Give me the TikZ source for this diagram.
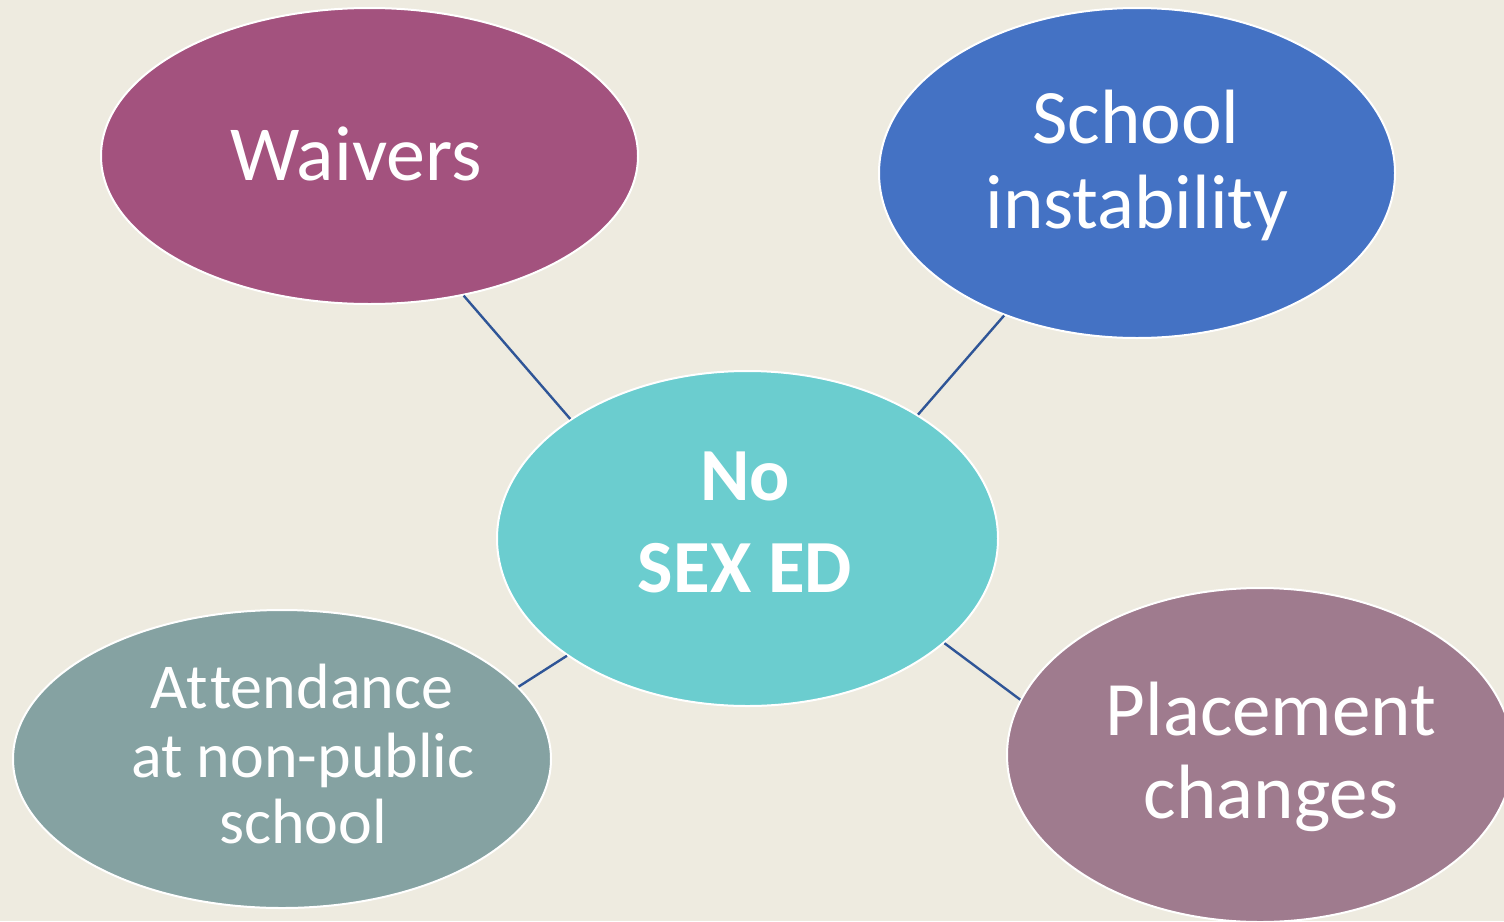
\documentclass[tikz,border=0pt]{standalone}
\usepackage{fontspec}
\setmainfont[Ligatures={NoCommon,NoContextual},RawFeature={-liga;-clig;-dlig}]{Carlito}
\usetikzlibrary{shapes.geometric}
\definecolor{bgc}{HTML}{EEEBE0}
\definecolor{waivc}{HTML}{A3527E}
\definecolor{schlc}{HTML}{4472C4}
\definecolor{centc}{HTML}{6BCDCF}
\definecolor{attnc}{HTML}{85A2A2}
\definecolor{placc}{HTML}{9F7B8E}
\definecolor{linec}{HTML}{2F5597}
\tikzset{
  bubble/.style={ellipse, draw=white, line width=2pt, inner sep=0pt},
  lbl/.style={text=white, inner sep=0pt, anchor=base},
  link/.style={draw=linec, line width=2.4pt},
}
\begin{document}
\begin{tikzpicture}[x=1pt, y=-1pt]
\fill[bgc] (0,0) rectangle (1504,921);
\useasboundingbox (0,0) rectangle (1504,921);
\begin{scope}
\clip (0,0) rectangle (1504,921);
\node[bubble, fill=waivc, minimum width=537pt, minimum height=296pt] (waiv) at (369.5,156) {};
\node[bubble, fill=schlc, minimum width=516pt, minimum height=330pt] (schl) at (1137,173) {};
\node[bubble, fill=centc, minimum width=501pt, minimum height=335pt] (cent) at (747.5,538.5) {};
\node[bubble, fill=attnc, minimum width=538pt, minimum height=298pt] (attn) at (282,759) {};
\node[bubble, fill=placc, minimum width=506pt, minimum height=334pt] (plac) at (1260,755) {};
\end{scope}
% labels
\node[lbl, font=\fontsize{78}{94}\selectfont] (waivt) at (356,180) {Waivers};
\node[lbl, font=\fontsize{77}{92}\selectfont] (schlt1) at (1136,143) {School};
\node[lbl, font=\fontsize{77}{92}\selectfont] (schlt2) at (1137,228) {instability};
\node[lbl, font=\fontsize{75}{90}\selectfont\bfseries] (centt1) at (745,500) {No};
\node[lbl, font=\fontsize{75}{90}\selectfont\bfseries] (centt2) at (745,592) {SEX ED};
\node[lbl, font=\fontsize{64}{77}\selectfont] (attnt1) at (302,708) {At\kern2.5pt tendance};
\node[lbl, font=\fontsize{64}{77}\selectfont] (attnt2) at (303,777) {at non-public};
\node[lbl, font=\fontsize{64}{77}\selectfont] (attnt3) at (303,843) {school};
\node[lbl, font=\fontsize{77}{92}\selectfont] (plact1) at (1271,735) {Placement};
\node[lbl, font=\fontsize{77}{92}\selectfont] (plact2) at (1271,818) {changes};
% connectors
\draw[link] (waiv.-56.7) -- (cent.146.1);
\draw[link] (schl.227.7) -- (cent.36.4);
\draw[link] (attn.17.5) -- (cent.213.4);
\draw[link] (plac.167.3) -- (cent.-28.6);
\end{tikzpicture}
\end{document}
